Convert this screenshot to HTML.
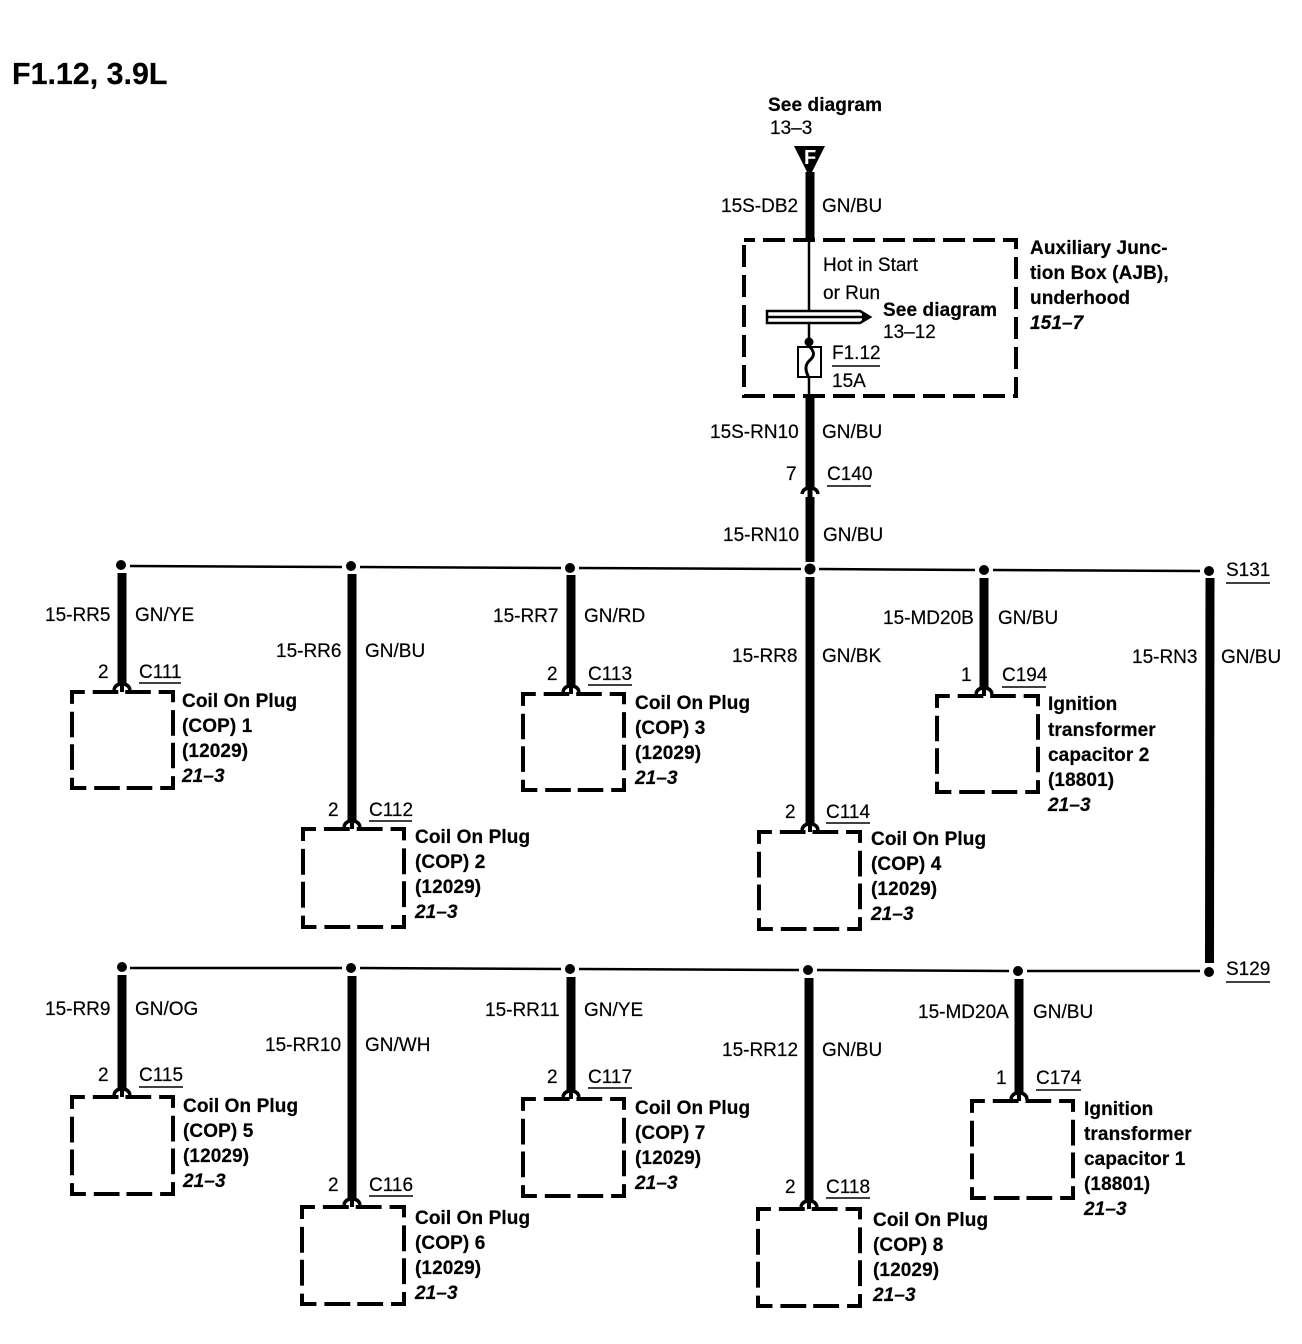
<!DOCTYPE html>
<html><head><meta charset="utf-8"><style>
html,body{margin:0;padding:0;background:#fff}
svg{display:block}
text{font-family:"Liberation Sans",sans-serif;font-size:19px;fill:#000;stroke:#000;stroke-width:.2px}
.b{font-weight:bold;letter-spacing:.1px}
.i{font-weight:bold;font-style:italic;letter-spacing:.1px}
.w{stroke:#000;stroke-width:9;fill:none}
.t{stroke:#000;stroke-width:2.5;fill:none}
.u{stroke:#000;stroke-width:1.5;fill:none}
.d{stroke:#000;stroke-width:4;fill:none;stroke-dasharray:25 8 26 7 26 8;stroke-dashoffset:12}
.e{stroke:#000;stroke-width:4;fill:none;stroke-dasharray:22 8;stroke-dashoffset:11}
.a{stroke:#000;stroke-width:3.5;fill:none}
</style></head><body>
<svg width="1302" height="1344" viewBox="0 0 1302 1344" xmlns="http://www.w3.org/2000/svg">
<rect width="1302" height="1344" fill="#fff"/>
<text x="12" y="84" class="b" style="font-size:30.4px;letter-spacing:0">F1.12, 3.9L</text>

<!-- top feed -->
<text x="768" y="111" class="b">See diagram</text>
<text x="770" y="134">13–3</text>
<path class="w" d="M810 172V240"/>
<path d="M794 146H825L811 174H808Z" fill="#000"/>
<text x="804" y="164" style="font-size:20px;font-weight:bold;fill:#fff;stroke:none">F</text>
<text x="721" y="212">15S-DB2</text><text x="822" y="212">GN/BU</text>

<!-- AJB -->
<rect x="744" y="240" width="272" height="156" class="e"/>
<path class="t" d="M809 240V396"/>
<text x="823" y="271">Hot in Start</text>
<text x="823" y="299">or Run</text>
<path d="M767 311H860L870 317L860 323H767Z" fill="#fff" stroke="#000" stroke-width="2.5"/>
<path d="M768 317H862" stroke="#000" stroke-width="2.5"/>
<path d="M862 313L870 317L862 321Z" fill="#000"/>
<text x="883" y="316" class="b">See diagram</text>
<text x="883" y="338">13–12</text>
<circle cx="809" cy="342" r="4.5" fill="#000"/>
<rect x="798" y="347" width="23" height="30" fill="#fff" stroke="#000" stroke-width="2"/>
<path d="M809 346C815 352 815 356 809 361C804 366 806 372 809 378" fill="none" stroke="#000" stroke-width="3"/>
<text x="832" y="359">F1.12</text><path class="u" d="M832 366H880"/>
<text x="832" y="387">15A</text>
<text x="1030" y="254" class="b">Auxiliary Junc-</text>
<text x="1030" y="279" class="b">tion Box (AJB),</text>
<text x="1030" y="304" class="b">underhood</text>
<text x="1030" y="329" class="i">151–7</text>

<!-- C140 -->
<path class="w" d="M810 396V488"/>
<text x="710" y="438">15S-RN10</text><text x="822" y="438">GN/BU</text>
<text x="786" y="480">7</text><text x="827" y="480">C140</text><path class="u" d="M827 486H871"/>
<path class="a" d="M802 494Q803 488 810 488Q817 488 818 494"/>
<path d="M810 488V498" stroke="#000" stroke-width="5"/>
<path class="w" d="M810 497V562"/>
<text x="723" y="541">15-RN10</text><text x="823" y="541">GN/BU</text>

<!-- upper bus -->
<path class="t" d="M130 566L342 567M360 567L561 568M579 568L801 569M819 569L975 570M993 570L1200 571"/>
<g fill="#000"><circle cx="121" cy="565" r="5"/><circle cx="351" cy="566" r="5"/><circle cx="570" cy="568" r="5"/><circle cx="810" cy="569" r="5.5"/><circle cx="984" cy="570" r="5"/><circle cx="1209" cy="571" r="5"/></g>
<text x="1226" y="576">S131</text><path class="u" d="M1226 583H1270"/>
<path class="w" d="M1210 578L1209.500 963"/>
<text x="1132" y="663">15-RN3</text><text x="1221" y="663">GN/BU</text>

<!-- COP 1 -->
<path class="w" d="M122 573V685"/>
<text x="45" y="621">15-RR5</text><text x="135" y="621">GN/YE</text>
<text x="98" y="678">2</text><text x="139" y="678">C111</text><path class="u" d="M139 683H181"/>
<path class="a" d="M114 690Q115 684 122 684Q129 684 130 690"/><path d="M122 684V692" stroke="#000" stroke-width="4"/>
<rect x="72" y="692" width="101" height="96" class="d" pathLength="400"/>
<text x="182" y="707" class="b">Coil On Plug</text><text x="182" y="732" class="b">(COP) 1</text><text x="182" y="757" class="b">(12029)</text><text x="182" y="782" class="i">21–3</text>

<!-- COP 2 -->
<path class="w" d="M352 574V822"/>
<text x="276" y="657">15-RR6</text><text x="365" y="657">GN/BU</text>
<text x="328" y="816">2</text><text x="369" y="816">C112</text><path class="u" d="M369 821H412"/>
<path class="a" d="M344 827Q345 821 352 821Q359 821 360 827"/><path d="M352 821V829" stroke="#000" stroke-width="4"/>
<rect x="303" y="829" width="101" height="98" class="d" pathLength="400"/>
<text x="415" y="843" class="b">Coil On Plug</text><text x="415" y="868" class="b">(COP) 2</text><text x="415" y="893" class="b">(12029)</text><text x="415" y="918" class="i">21–3</text>

<!-- COP 3 -->
<path class="w" d="M571 575V687"/>
<text x="493" y="622">15-RR7</text><text x="584" y="622">GN/RD</text>
<text x="547" y="680">2</text><text x="588" y="680">C113</text><path class="u" d="M588 685H632"/>
<path class="a" d="M563 692Q564 686 571 686Q578 686 579 692"/><path d="M571 686V694" stroke="#000" stroke-width="4"/>
<rect x="523" y="694" width="101" height="96" class="d" pathLength="400"/>
<text x="635" y="709" class="b">Coil On Plug</text><text x="635" y="734" class="b">(COP) 3</text><text x="635" y="759" class="b">(12029)</text><text x="635" y="784" class="i">21–3</text>

<!-- COP 4 -->
<path class="w" d="M810 577V825"/>
<text x="732" y="662">15-RR8</text><text x="822" y="662">GN/BK</text>
<text x="785" y="818">2</text><text x="826" y="818">C114</text><path class="u" d="M826 823H870"/>
<path class="a" d="M802 830Q803 824 810 824Q817 824 818 830"/><path d="M810 824V832" stroke="#000" stroke-width="4"/>
<rect x="759" y="832" width="101" height="97" class="d" pathLength="400"/>
<text x="871" y="845" class="b">Coil On Plug</text><text x="871" y="870" class="b">(COP) 4</text><text x="871" y="895" class="b">(12029)</text><text x="871" y="920" class="i">21–3</text>

<!-- ITC 2 -->
<path class="w" d="M984 578V689"/>
<text x="883" y="624">15-MD20B</text><text x="998" y="624">GN/BU</text>
<text x="961" y="681">1</text><text x="1002" y="681">C194</text><path class="u" d="M1002 687H1046"/>
<path class="a" d="M976 694Q977 688 984 688Q991 688 992 694"/><path d="M984 688V696" stroke="#000" stroke-width="4"/>
<rect x="937" y="696" width="101" height="96" class="d" pathLength="400"/>
<text x="1048" y="710" class="b">Ignition</text><text x="1048" y="736" class="b">transformer</text><text x="1048" y="761" class="b">capacitor 2</text><text x="1048" y="786" class="b">(18801)</text><text x="1048" y="811" class="i">21–3</text>

<!-- lower bus -->
<path class="t" d="M130 968L342 968M360 968L561 969M579 969L799 970M817 970L1009 971M1027 971L1200 971"/>
<g fill="#000"><circle cx="122" cy="967" r="5"/><circle cx="351" cy="968" r="5"/><circle cx="570" cy="969" r="5"/><circle cx="808" cy="970" r="5"/><circle cx="1018" cy="971" r="5"/><circle cx="1209" cy="972" r="5"/></g>
<text x="1226" y="975">S129</text><path class="u" d="M1226 982H1270"/>

<!-- COP 5 -->
<path class="w" d="M122 975V1090"/>
<text x="45" y="1015">15-RR9</text><text x="135" y="1015">GN/OG</text>
<text x="98" y="1081">2</text><text x="139" y="1081">C115</text><path class="u" d="M139 1087H183"/>
<path class="a" d="M114 1095Q115 1089 122 1089Q129 1089 130 1095"/><path d="M122 1089V1097" stroke="#000" stroke-width="4"/>
<rect x="72" y="1097" width="101" height="97" class="d" pathLength="400"/>
<text x="183" y="1112" class="b">Coil On Plug</text><text x="183" y="1137" class="b">(COP) 5</text><text x="183" y="1162" class="b">(12029)</text><text x="183" y="1187" class="i">21–3</text>

<!-- COP 6 -->
<path class="w" d="M352 976V1200"/>
<text x="265" y="1051">15-RR10</text><text x="365" y="1051">GN/WH</text>
<text x="328" y="1191">2</text><text x="369" y="1191">C116</text><path class="u" d="M369 1196H413"/>
<path class="a" d="M344 1205Q345 1199 352 1199Q359 1199 360 1205"/><path d="M352 1199V1207" stroke="#000" stroke-width="4"/>
<rect x="302" y="1207" width="102" height="97" class="d" pathLength="400"/>
<text x="415" y="1224" class="b">Coil On Plug</text><text x="415" y="1249" class="b">(COP) 6</text><text x="415" y="1274" class="b">(12029)</text><text x="415" y="1299" class="i">21–3</text>

<!-- COP 7 -->
<path class="w" d="M571 977V1092"/>
<text x="485" y="1016">15-RR11</text><text x="584" y="1016">GN/YE</text>
<text x="547" y="1083">2</text><text x="588" y="1083">C117</text><path class="u" d="M588 1088H632"/>
<path class="a" d="M563 1097Q564 1091 571 1091Q578 1091 579 1097"/><path d="M571 1091V1099" stroke="#000" stroke-width="4"/>
<rect x="523" y="1099" width="101" height="97" class="d" pathLength="400"/>
<text x="635" y="1114" class="b">Coil On Plug</text><text x="635" y="1139" class="b">(COP) 7</text><text x="635" y="1164" class="b">(12029)</text><text x="635" y="1189" class="i">21–3</text>

<!-- COP 8 -->
<path class="w" d="M809 978V1202"/>
<text x="722" y="1056">15-RR12</text><text x="822" y="1056">GN/BU</text>
<text x="785" y="1193">2</text><text x="826" y="1193">C118</text><path class="u" d="M826 1198H870"/>
<path class="a" d="M801 1207Q802 1201 809 1201Q816 1201 817 1207"/><path d="M809 1201V1209" stroke="#000" stroke-width="4"/>
<rect x="758" y="1209" width="102" height="97" class="d" pathLength="400"/>
<text x="873" y="1226" class="b">Coil On Plug</text><text x="873" y="1251" class="b">(COP) 8</text><text x="873" y="1276" class="b">(12029)</text><text x="873" y="1301" class="i">21–3</text>

<!-- ITC 1 -->
<path class="w" d="M1019 979V1094"/>
<text x="918" y="1018">15-MD20A</text><text x="1033" y="1018">GN/BU</text>
<text x="996" y="1084">1</text><text x="1036" y="1084">C174</text><path class="u" d="M1036 1090H1081"/>
<path class="a" d="M1011 1099Q1012 1093 1019 1093Q1026 1093 1027 1099"/><path d="M1019 1093V1101" stroke="#000" stroke-width="4"/>
<rect x="972" y="1101" width="101" height="97" class="d" pathLength="400"/>
<text x="1084" y="1115" class="b">Ignition</text><text x="1084" y="1140" class="b">transformer</text><text x="1084" y="1165" class="b">capacitor 1</text><text x="1084" y="1190" class="b">(18801)</text><text x="1084" y="1215" class="i">21–3</text>
</svg>
</body></html>
